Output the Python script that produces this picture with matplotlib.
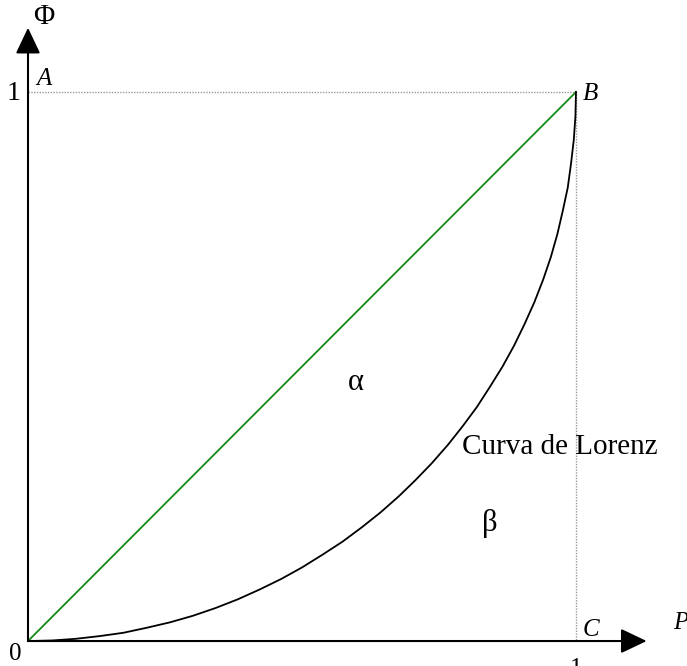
import matplotlib
matplotlib.use("Agg")
import matplotlib.pyplot as plt

plt.rcParams['font.family'] = ['Liberation Serif', 'DejaVu Serif']

# Lorenz curve (P, Phi)
lorenz_p = [0.0, 0.044, 0.087, 0.131, 0.174, 0.216, 0.259, 0.301, 0.342, 0.383,
            0.423, 0.462, 0.500, 0.537, 0.574, 0.609, 0.643, 0.676, 0.707, 0.737,
            0.766, 0.793, 0.819, 0.843, 0.866, 0.887, 0.906, 0.924, 0.940, 0.954,
            0.966, 0.976, 0.985, 0.991, 0.996, 0.999, 1.0]
lorenz_phi = [0.0, 0.001, 0.004, 0.009, 0.015, 0.024, 0.034, 0.046, 0.060, 0.076,
              0.094, 0.113, 0.134, 0.157, 0.181, 0.207, 0.234, 0.263, 0.293, 0.324,
              0.357, 0.391, 0.426, 0.463, 0.500, 0.538, 0.577, 0.617, 0.658, 0.699,
              0.741, 0.784, 0.826, 0.870, 0.913, 0.956, 1.0]

# line of perfect equality
equal_p = [0.0, 1.0]
equal_phi = [0.0, 1.0]

# dotted guide A-B-C
guide_p = [0.0, 1.0, 1.0]
guide_phi = [1.0, 1.0, 0.0]

fig = plt.figure(figsize=(6.87, 6.66), dpi=100)
ax = fig.add_axes([0, 0, 1, 1])
ax.set_xlim(-0.0511, 1.2026)
ax.set_ylim(-0.0455, 1.1676)
ax.axis('off')

ax.plot(guide_p, guide_phi, color='#999999', lw=1.0, ls=(0, (1, 1)))
ax.plot(equal_p, equal_phi, color='#138a13', lw=1.3)
ax.plot(lorenz_p, lorenz_phi, color='black', lw=1.3, solid_joinstyle='round')

# axes with arrow heads
arrow = dict(arrowstyle='-|>,head_length=0.8,head_width=0.38', mutation_scale=20,
             color='black', lw=1.5, shrinkA=0, shrinkB=0)
ax.annotate('', xy=(1.129, 0), xytext=(0, 0), arrowprops=arrow)
ax.annotate('', xy=(0, 1.117), xytext=(0, 0), arrowprops=arrow)

ax.text(0.029, 1.113, 'Φ', fontsize=21, ha='center', va='bottom')
ax.text(-0.026, 0.985, '1', fontsize=20, ha='center', va='baseline')
ax.text(-0.024, -0.004, '0', fontsize=18, ha='center', va='top')
ax.text(1.0, -0.031, '1', fontsize=18, ha='center', va='top')
ax.text(0.016, 1.013, 'A', fontsize=18, style='italic', va='baseline')
ax.text(1.013, 0.985, 'B', fontsize=18, style='italic', va='baseline')
ax.text(1.013, 0.009, 'C', fontsize=18, style='italic', va='baseline')
ax.text(1.177, 0.022, 'P', fontsize=18, style='italic', va='baseline')
ax.text(0.599, 0.457, 'α', fontsize=22, ha='center', va='baseline')
ax.text(0.843, 0.200, 'β', fontsize=22, ha='center', va='baseline')
ax.text(0.792, 0.341, 'Curva de Lorenz', fontsize=21, va='baseline')

fig.savefig('out.png', dpi=100)
